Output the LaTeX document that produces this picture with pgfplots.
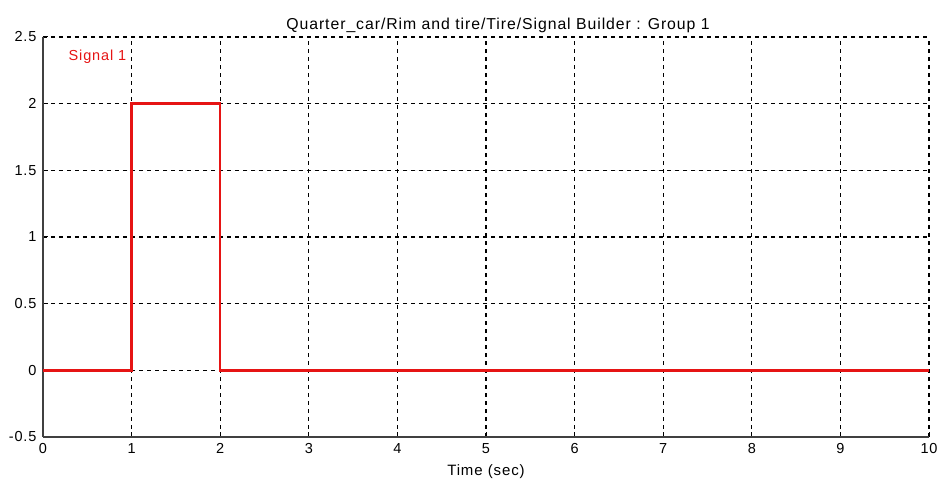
\documentclass[border=0pt]{standalone}
\usepackage{fontspec}
\setmainfont{Liberation Sans}[LetterSpace=6]
\usepackage{pgfplots}
\pgfplotsset{compat=1.18}
\definecolor{sigred}{RGB}{230,20,20}
\begin{document}
\begin{tikzpicture}
\begin{axis}[
  name=ax,
  scale only axis,
  width=886pt, height=400pt,
  xmin=0, xmax=10, ymin=-0.5, ymax=2.5,
  xtick={0,1,...,10},
  ytick={-0.5,0,0.5,1,1.5,2,2.5},
  xticklabels={0,1,2,3,4,5,6,7,8,9,10},
  yticklabels={-0.5,0,0.5,1,1.5,2,2.5},
  axis x line*=bottom, axis y line*=left,
  axis line style={black!75, line width=1.5pt, -},
  tick align=inside, major tick length=5pt,
  tick style={black, line width=1pt},
  grid=major,
  major grid style={black, dash pattern=on 4pt off 4pt, line width=1.2pt},
  font=\fontsize{14.5}{17}\selectfont,
  ticklabel style={font=\fontsize{14.5}{17}\selectfont},
  xticklabel style={yshift=-3pt},
  yticklabel style={xshift=-3pt},
  title={Quarter\_car/Rim and tire/Tire/Signal Builder : Group 1},
  title style={yshift=-5pt, xshift=12pt, font=\fontsize{15.8}{18}\selectfont},
  xlabel={Time (sec)},
  xlabel style={yshift=-4pt, font=\fontsize{15}{18}\selectfont},
]
\addplot[sigred, line width=2.4pt] coordinates {
  (0,0) (1,0) (1,2) (2,2) (2,0) (10,0)
};
\node[anchor=west, text=sigred, font=\fontsize{14.5}{17}\selectfont] at (axis cs:0.25,2.35) {Signal 1};
\end{axis}
\pgfresetboundingbox
\path ([shift={(-43pt,-45pt)}]ax.south west) rectangle ([shift={(9pt,37pt)}]ax.north east);
\end{tikzpicture}
\end{document}
